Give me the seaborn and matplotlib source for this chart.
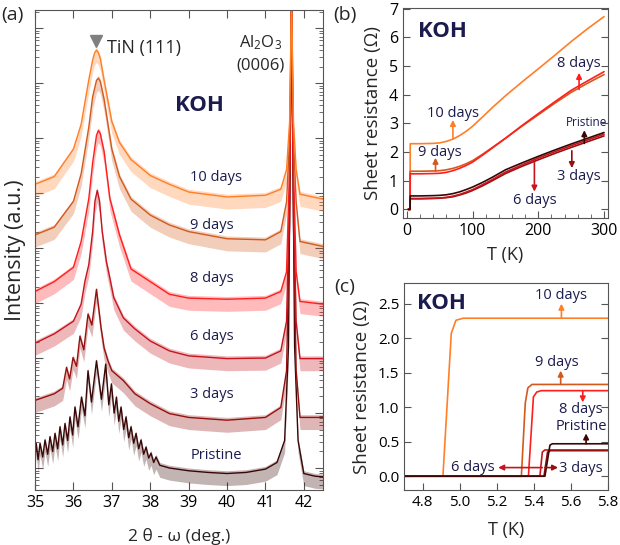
import numpy as np
import pandas as pd
import matplotlib
matplotlib.use('agg')
import matplotlib.pyplot as plt
from matplotlib.ticker import LogLocator, MultipleLocator, NullFormatter, FormatStrFormatter
import seaborn as sns

# ---------------- (a) XRD, values are log10(intensity)
tt_10 = [35.0, 35.5, 36.0, 36.2, 36.4, 36.5, 36.55, 36.6, 36.65, 36.7, 36.8, 37.0, 37.2, 37.5, 38.0, 38.5,
         39.0, 40.0, 41.0, 41.4, 41.55, 41.63, 41.68, 41.73, 41.8, 41.9, 42.5]
lg_10 = [6.16, 6.30, 6.80, 7.25, 8.06, 8.42, 8.55, 8.60, 8.55, 8.45, 8.05, 7.30, 6.92, 6.61, 6.32, 6.16,
         6.02, 5.93, 5.96, 6.07, 6.43, 7.3, 9.6, 7.3, 6.43, 5.98, 5.89]

tt_9 = [35.0, 35.5, 36.0, 36.2, 36.4, 36.5, 36.6, 36.65, 36.7, 36.8, 37.0, 37.2, 37.5, 38.0, 38.5,
        39.0, 40.0, 41.0, 41.4, 41.55, 41.63, 41.68, 41.73, 41.8, 41.9, 42.5]
lg_9 = [5.24, 5.38, 5.85, 6.35, 7.20, 7.75, 8.05, 8.09, 8.03, 7.70, 6.80, 6.30, 5.89, 5.60, 5.42,
        5.30, 5.17, 5.15, 5.30, 5.84, 7.0, 9.6, 7.0, 5.84, 5.12, 5.03]

tt_8 = [35.0, 35.5, 36.0, 36.2, 36.4, 36.5, 36.6, 36.65, 36.7, 36.8, 36.95, 37.2, 37.5, 38.0, 38.5,
        39.0, 40.0, 41.0, 41.4, 41.55, 41.63, 41.68, 41.73, 41.8, 41.9, 42.5]
lg_8 = [4.21, 4.39, 4.65, 5.12, 5.90, 6.55, 7.05, 7.14, 7.08, 6.75, 5.90, 5.24, 4.62, 4.39, 4.16,
        4.09, 4.07, 4.09, 4.21, 4.57, 6.5, 9.6, 6.5, 4.57, 4.03, 3.98]

tt_6 = [35.0, 35.5, 36.0, 36.2, 36.3, 36.4, 36.5, 36.56, 36.62, 36.68, 36.75, 36.86, 36.95, 37.05, 37.3,
        37.6, 38.0, 38.5, 39.0, 40.0, 41.0, 41.4, 41.55, 41.63, 41.68, 41.73, 41.8, 41.9, 42.5]
lg_6 = [3.27, 3.44, 3.67, 3.98, 4.40, 4.70, 5.30, 5.85, 6.05, 5.85, 5.30, 4.75, 4.45, 4.10, 3.73,
        3.53, 3.31, 3.13, 3.04, 2.99, 3.00, 3.13, 3.67, 6.0, 9.6, 6.0, 3.67, 2.99, 2.99]

tt_3 = [35.0, 35.5, 35.72, 35.82, 35.9, 35.99, 36.08, 36.17, 36.27, 36.38, 36.48, 36.6, 36.72, 36.8,
        36.9, 37.0, 37.3, 37.6, 38.0, 38.5, 39.0, 40.0, 41.0, 41.4, 41.55, 41.63, 41.68, 41.73, 41.8,
        41.9, 42.5]
lg_3 = [2.23, 2.35, 2.45, 2.83, 2.62, 3.01, 2.85, 3.40, 3.15, 3.80, 3.60, 4.25, 3.55, 3.18,
        2.95, 2.77, 2.59, 2.35, 2.17, 1.99, 1.92, 1.87, 1.92, 2.10, 2.77, 5.5, 9.6, 5.5, 2.77,
        1.92, 1.92]

tt_p = [35.00, 35.03, 35.08, 35.13, 35.20, 35.26, 35.33, 35.39, 35.46, 35.52, 35.59, 35.65, 35.72, 35.78,
        35.85, 35.91, 35.98, 36.04, 36.12, 36.21, 36.30, 36.38, 36.47, 36.60, 36.73, 36.84, 36.92, 36.99,
        37.06, 37.12, 37.18, 37.24, 37.31, 37.37, 37.44, 37.50, 37.57, 37.63, 37.70, 37.76, 37.83, 37.89,
        37.96, 38.02, 38.09, 38.15, 38.25, 38.5, 39.0, 39.5, 40.0, 40.5, 41.0, 41.3, 41.5, 41.6, 41.68,
        41.76, 41.85, 42.0, 42.3, 42.5]
lg_p = [1.20, 1.45, 1.15, 1.45, 1.20, 1.51, 1.25, 1.57, 1.30, 1.63, 1.35, 1.75, 1.42, 1.81,
        1.50, 1.93, 1.60, 2.11, 1.75, 2.29, 1.95, 2.77, 2.20, 2.95, 2.25, 2.89, 2.15, 2.53,
        2.00, 2.29, 1.85, 2.11, 1.70, 1.93, 1.55, 1.75, 1.45, 1.63, 1.35, 1.51, 1.25, 1.38,
        1.18, 1.27, 1.10, 1.20, 1.05, 1.00, 0.95, 0.92, 0.90, 0.92, 0.98, 1.10, 1.50, 3.2, 9.6,
        3.2, 1.50, 0.90, 0.85, 0.84]

xrd_names = ['Pristine', '3 days', '6 days', '8 days', '9 days', '10 days']
xrd_tt = [tt_p, tt_3, tt_6, tt_8, tt_9, tt_10]
xrd_lg = [lg_p, lg_3, lg_6, lg_8, lg_9, lg_10]
# label positions (2theta, log10 I)
xrd_lab_x = [39.72, 39.61, 39.61, 39.61, 39.61, 39.72]
xrd_lab_y = [1.23, 2.34, 3.40, 4.45, 5.42, 6.29]

# ---------------- (b) sheet resistance vs T
T_b = [2, 4.8, 5.0, 20, 40, 50, 60, 70, 80, 90, 100, 115, 130, 150, 175, 200, 225, 250, 275, 300]
R_b = {
    '10 days': [0, 0, 2.29, 2.29, 2.30, 2.32, 2.37, 2.45, 2.57, 2.72, 2.90, 3.22, 3.55, 3.96, 4.44, 4.90,
                5.37, 5.85, 6.30, 6.72],
    '9 days': [0, 0, 1.33, 1.33, 1.34, 1.35, 1.38, 1.43, 1.50, 1.59, 1.70, 1.92, 2.16, 2.48, 2.90, 3.30,
               3.70, 4.08, 4.40, 4.70],
    '8 days': [0, 0, 1.24, 1.24, 1.25, 1.26, 1.29, 1.35, 1.43, 1.53, 1.65, 1.89, 2.14, 2.48, 2.92, 3.34,
               3.75, 4.15, 4.48, 4.80],
    '6 days': [0, 0, 0.38, 0.38, 0.39, 0.40, 0.42, 0.46, 0.52, 0.60, 0.69, 0.86, 1.04, 1.30, 1.55, 1.79,
               2.01, 2.22, 2.42, 2.62],
    '3 days': [0, 0, 0.37, 0.37, 0.38, 0.39, 0.41, 0.44, 0.50, 0.57, 0.66, 0.82, 1.00, 1.25, 1.50, 1.73,
               1.95, 2.16, 2.36, 2.56],
    'Pristine': [0, 0, 0.47, 0.47, 0.48, 0.49, 0.51, 0.55, 0.61, 0.69, 0.78, 0.94, 1.12, 1.38, 1.62, 1.85,
                 2.07, 2.28, 2.48, 2.68],
}

# ---------------- (c) low-T transition
T_c = {
    '10 days': [4.7, 4.91, 4.955, 4.98, 5.02, 5.8],
    '9 days': [4.7, 5.333, 5.354, 5.368, 5.39, 5.8],
    '8 days': [4.7, 5.371, 5.398, 5.416, 5.44, 5.8],
    '6 days': [4.7, 5.433, 5.446, 5.46, 5.8],
    '3 days': [4.7, 5.455, 5.474, 5.49, 5.8],
    'Pristine': [4.7, 5.46, 5.487, 5.50, 5.8],
}
R_c = {
    '10 days': [0, 0, 2.07, 2.26, 2.29, 2.29],
    '9 days': [0, 0, 1.06, 1.28, 1.33, 1.33],
    '8 days': [0, 0, 1.15, 1.22, 1.24, 1.24],
    '6 days': [0, 0, 0.35, 0.38, 0.38],
    '3 days': [0, 0, 0.35, 0.37, 0.37],
    'Pristine': [0, 0, 0.45, 0.47, 0.47],
}

colors = {'10 days': '#FF7F27', '9 days': '#D35A1C', '8 days': '#FF1E1E',
          '6 days': '#C8141E', '3 days': '#96100F', 'Pristine': '#3A0707'}
navy = '#1B1B4D'

sns.set_style('ticks')
plt.rcParams['font.family'] = ['Open Sans', 'DejaVu Sans']
plt.rcParams['mathtext.fontset'] = 'custom'
plt.rcParams['mathtext.rm'] = 'Open Sans'
plt.rcParams['mathtext.default'] = 'rm'
plt.rcParams['axes.edgecolor'] = '#555555'
plt.rcParams['xtick.color'] = '#555555'
plt.rcParams['ytick.color'] = '#555555'
plt.rcParams['xtick.labelcolor'] = 'black'
plt.rcParams['ytick.labelcolor'] = 'black'

fig = plt.figure(figsize=(6.2, 5.45), dpi=100)
ax_a = fig.add_axes([0.0565, 0.1009, 0.4645, 0.8807])
ax_b = fig.add_axes([0.65, 0.60, 0.3306, 0.3853])
ax_c = fig.add_axes([0.6516, 0.1009, 0.329, 0.3798])

# ---- panel (a)
for name, tt, lg in zip(xrd_names, xrd_tt, xrd_lg):
    y = 10 ** np.array(lg)
    ax_a.fill_between(tt, y * 10 ** -0.22, y * 10 ** 0.05, color=colors[name], alpha=0.3, lw=0)
    sns.lineplot(x=tt, y=y, color=colors[name], lw=1.0, ax=ax_a, sort=False, estimator=None)
for name, x, y in zip(xrd_names, xrd_lab_x, xrd_lab_y):
    ax_a.text(x, 10 ** y, name, color=navy, fontsize=10.5, ha='center', va='center')

ax_a.set_yscale('log')
ax_a.set_xlim(35, 42.5)
ax_a.set_ylim(10 ** 0.6, 10 ** 9.33)
ax_a.xaxis.set_major_locator(MultipleLocator(1))
ax_a.yaxis.set_major_locator(LogLocator(base=10, numticks=20))
ax_a.yaxis.set_minor_locator(LogLocator(base=10, subs=np.arange(2, 10), numticks=20))
ax_a.yaxis.set_major_formatter(NullFormatter())
ax_a.yaxis.set_minor_formatter(NullFormatter())
ax_a.tick_params(which='both', direction='in', top=True, right=True, labelsize=11.5)
ax_a.tick_params(which='major', length=6)
ax_a.tick_params(which='minor', length=3)
ax_a.set_xlabel('2 θ - ω (deg.)', fontsize=12.5, labelpad=12)
ax_a.set_ylabel('Intensity (a.u.)', fontsize=15.5, labelpad=3)
ax_a.plot([36.6], [10 ** 8.76], marker='v', color='#808080', ms=9, ls='none')
ax_a.text(36.87, 10 ** 8.64, 'TiN (111)', fontsize=13, va='center', ha='left')
ax_a.text(40.88, 10 ** 8.73, 'Al$_2$O$_3$', fontsize=12, va='center', ha='center')
ax_a.text(40.88, 10 ** 8.33, '(0006)', fontsize=12, va='center', ha='center')
ax_a.text(39.27, 10 ** 7.59, 'KOH', fontsize=16, fontweight='bold', color=navy, ha='center', va='center')

# ---- panel (b)
for name in ['10 days', '9 days', '8 days', '3 days', '6 days', 'Pristine']:
    sns.lineplot(x=T_b, y=R_b[name], color=colors[name], lw=1.2, ax=ax_b, sort=False, estimator=None)
ax_b.set_xlim(-6, 306)
ax_b.set_ylim(-0.3, 7.02)
ax_b.xaxis.set_major_locator(MultipleLocator(100))
ax_b.xaxis.set_minor_locator(MultipleLocator(20))
ax_b.yaxis.set_major_locator(MultipleLocator(1))
ax_b.tick_params(which='both', direction='in', right=True, labelsize=11.5)
ax_b.tick_params(which='major', length=5)
ax_b.tick_params(which='minor', length=3)
ax_b.set_xlabel('T (K)', fontsize=13, labelpad=5)
ax_b.set_ylabel('Sheet resistance (Ω)', fontsize=13.5, labelpad=5)
ax_b.text(17, 6.2, 'KOH', fontsize=16, fontweight='bold', color=navy, ha='left', va='center')

arrows_b = [  # name, x, tail y, head y, label x, label y, size
    ('10 days', 70, 2.47, 3.12, 70, 3.36, 10.5),
    ('9 days', 43.5, 1.33, 1.80, 50, 1.97, 10.5),
    ('8 days', 262, 4.18, 4.76, 262, 5.10, 10.5),
    ('Pristine', 270, 2.30, 2.76, 274, 3.02, 8.5),
    ('3 days', 251, 2.04, 1.44, 262, 1.13, 10.5),
    ('6 days', 194, 1.72, 0.62, 194, 0.31, 10.5),
]
for name, x, y0, y1, lx, ly, fs in arrows_b:
    ax_b.annotate('', xy=(x, y1), xytext=(x, y0),
                  arrowprops=dict(arrowstyle='-|>', color=colors[name], lw=1.2, mutation_scale=8,
                                  shrinkA=0, shrinkB=0))
    ax_b.text(lx, ly, name, color=navy, fontsize=fs, ha='center', va='center')

# ---- panel (c)
for name in ['10 days', '9 days', '8 days', '6 days', '3 days', 'Pristine']:
    sns.lineplot(x=T_c[name], y=R_c[name], color=colors[name], lw=1.2, ax=ax_c, sort=False, estimator=None)
ax_c.set_xlim(4.7, 5.8)
ax_c.set_ylim(-0.2, 2.8)
ax_c.xaxis.set_major_locator(MultipleLocator(0.2))
ax_c.yaxis.set_major_locator(MultipleLocator(0.5))
ax_c.xaxis.set_major_formatter(FormatStrFormatter('%.1f'))
ax_c.yaxis.set_major_formatter(FormatStrFormatter('%.1f'))
ax_c.tick_params(which='both', direction='in', right=True, labelsize=11, length=5)
ax_c.set_xlabel('T (K)', fontsize=13, labelpad=8)
ax_c.set_ylabel('Sheet resistance (Ω)', fontsize=13.5, labelpad=5)
ax_c.text(4.77, 2.5, 'KOH', fontsize=16, fontweight='bold', color=navy, ha='left', va='center')

arrows_c = [  # name, tail, head, label xy
    ('10 days', (5.549, 2.29), (5.549, 2.50), (5.545, 2.62)),
    ('9 days', (5.545, 1.33), (5.545, 1.53), (5.522, 1.65)),
    ('8 days', (5.664, 1.24), (5.664, 1.07), (5.653, 0.965)),
    ('Pristine', (5.682, 0.47), (5.682, 0.62), (5.656, 0.72)),
    ('6 days', (5.446, 0.125), (5.208, 0.125), (5.073, 0.125)),
    ('3 days', (5.46, 0.125), (5.531, 0.125), (5.656, 0.115)),
]
for name, tail, head, lab in arrows_c:
    ax_c.annotate('', xy=head, xytext=tail,
                  arrowprops=dict(arrowstyle='-|>', color=colors[name], lw=1.2, mutation_scale=8,
                                  shrinkA=0, shrinkB=0))
    ax_c.text(lab[0], lab[1], name, color=navy, fontsize=10.5, ha='center', va='center')

fig.text(12 / 620, 1 - 15 / 545, '(a)', fontsize=14, ha='center', va='center')
fig.text(345 / 620, 1 - 15 / 545, '(b)', fontsize=14, ha='center', va='center')
fig.text(345 / 620, 1 - 287 / 545, '(c)', fontsize=14, ha='center', va='center')

fig.savefig('out.png', dpi=100)
